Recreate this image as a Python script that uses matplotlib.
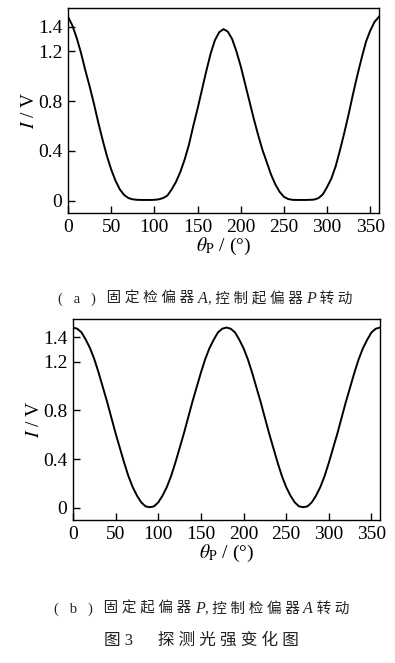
import matplotlib
matplotlib.use("Agg")
import matplotlib.pyplot as plt

plt.rcParams['mathtext.fontset'] = 'stix'
plt.rcParams['font.family'] = ['Liberation Serif', 'Noto Sans CJK SC']

# ---- data ----
angle_deg = [0, 5, 10, 15, 20, 25, 30, 35, 40, 45, 50, 55, 60, 65, 70, 75, 80, 85, 90,
             95, 100, 105, 110, 115, 120, 125, 130, 135, 140, 145, 150, 155, 160, 165, 170, 175, 180,
             185, 190, 195, 200, 205, 210, 215, 220, 225, 230, 235, 240, 245, 250, 255, 260, 265, 270,
             275, 280, 285, 290, 295, 300, 305, 310, 315, 320, 325, 330, 335, 340, 345, 350, 355, 360]

# (a) analyser A fixed, polariser P rotated
intensity_a = [1.48, 1.41, 1.31, 1.19, 1.05, 0.92, 0.78, 0.63, 0.49, 0.36, 0.25, 0.16, 0.09, 0.045, 0.02, 0.01, 0.006, 0.005, 0.005,
               0.005, 0.006, 0.01, 0.02, 0.04, 0.09, 0.15, 0.23, 0.33, 0.45, 0.60, 0.74, 0.89, 1.04, 1.18, 1.29, 1.355, 1.38,
               1.36, 1.30, 1.20, 1.08, 0.94, 0.80, 0.66, 0.53, 0.41, 0.31, 0.21, 0.13, 0.07, 0.03, 0.012, 0.006, 0.005, 0.005,
               0.005, 0.006, 0.008, 0.02, 0.05, 0.11, 0.18, 0.28, 0.41, 0.55, 0.70, 0.86, 1.01, 1.15, 1.28, 1.37, 1.44, 1.48]

# (b) polariser P fixed, analyser A rotated
intensity_b = [1.48, 1.47, 1.44, 1.38, 1.31, 1.22, 1.11, 0.99, 0.87, 0.74, 0.61, 0.49, 0.37, 0.26, 0.17, 0.10, 0.045, 0.012, 0.005,
               0.012, 0.045, 0.10, 0.17, 0.26, 0.37, 0.49, 0.61, 0.74, 0.87, 0.99, 1.11, 1.22, 1.31, 1.38, 1.44, 1.47, 1.48,
               1.47, 1.44, 1.38, 1.31, 1.22, 1.11, 0.99, 0.87, 0.74, 0.61, 0.49, 0.37, 0.26, 0.17, 0.10, 0.045, 0.012, 0.005,
               0.012, 0.045, 0.10, 0.17, 0.26, 0.37, 0.49, 0.61, 0.74, 0.87, 0.99, 1.11, 1.22, 1.31, 1.38, 1.44, 1.47, 1.48]

x_ticks = [0, 50, 100, 150, 200, 250, 300, 350]
y_ticks = [0, 0.4, 0.8, 1.2, 1.4]
y_ticklabels = ['0', '0.4', '0.8', '1.2', '1.4']
# caption pieces: (text, italic?)
caption_a = [('(   a   )  ', False), (' 固 定 检 偏 器 ', False), ('A', True),
             (', 控 制 起 偏 器 ', False), ('P', True), (' 转 动', False)]
caption_b = [('(   b   )  ', False), (' 固 定 起 偏 器 ', False), ('P', True),
             (', 控 制 检 偏 器 ', False), ('A', True), (' 转 动', False)]
figure_title = '图 3      探 测 光 强 变 化 图'

fig = plt.figure(figsize=(3.95, 6.63), dpi=100)
W, H = 395.0, 663.0

def make_axes(l, r, t, b):
    return fig.add_axes([l / W, 1 - b / H, (r - l) / W, (b - t) / H])

ax_a = make_axes(68, 379, 8, 213)
ax_b = make_axes(73, 380, 319, 520)

for ax, y in ((ax_a, intensity_a), (ax_b, intensity_b)):
    ax.plot(angle_deg, y, color='black', lw=1.4)
    ax.set_xlim(0, 360)
    ax.set_ylim(-0.1, 1.55)
    ax.set_xticks(x_ticks)
    ax.set_yticks(y_ticks)
    ax.set_yticklabels(y_ticklabels)
    ax.tick_params(direction='in', length=5, width=1, labelsize=14, pad=4,
                   top=False, right=False)
    for s in ax.spines.values():
        s.set_linewidth(1.0)
    ax.set_xlabel(r'$\theta_{\rm P}$ / (°)', fontsize=14, labelpad=0)
    ax.set_ylabel(r'$I$ / V', fontsize=14, labelpad=0)

renderer = fig.canvas.get_renderer()

def piece_text(pieces, x_px, y_px, size):
    x = x_px
    for s, it in pieces:
        kw = dict(ha='left', va='baseline', color='#222222')
        if it:
            t = fig.text(x / W, 1 - y_px / H, s, fontsize=size + 1,
                         family='Liberation Serif', style='italic', **kw)
        else:
            t = fig.text(x / W, 1 - y_px / H, s, fontsize=size,
                         family=['Liberation Serif', 'Noto Sans CJK SC'], **kw)
        x += t.get_window_extent(renderer).width

piece_text(caption_a, 58, 303, 10.5)
piece_text(caption_b, 54, 613, 10.5)
fig.text(0.51, 1 - 641 / H, figure_title, ha='center', va='center', fontsize=12, color='#222222')

fig.savefig('out.png', dpi=100)
